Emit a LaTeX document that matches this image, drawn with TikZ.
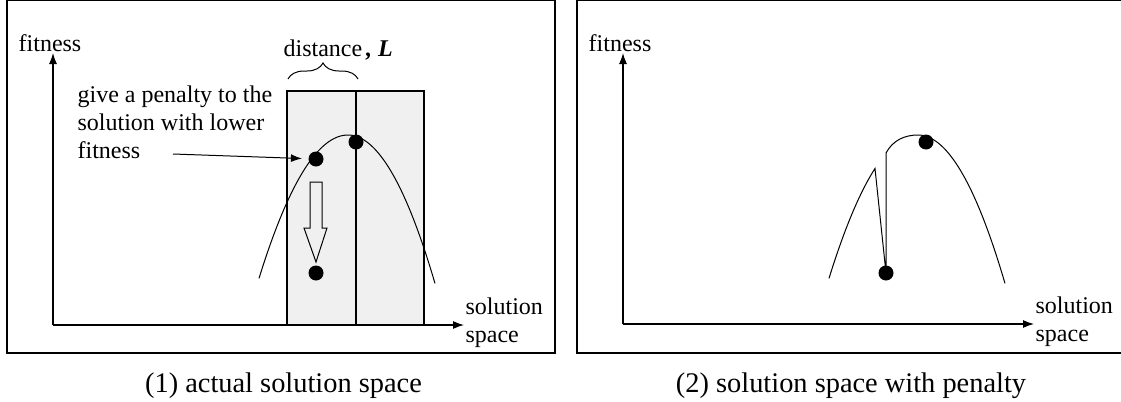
\documentclass[tikz,border=0pt]{standalone}
\usepackage{fontspec}
\setmainfont{Liberation Serif}
\usetikzlibrary{arrows.meta,decorations.pathreplacing}
\begin{document}
\begin{tikzpicture}[x=0.5pt,y=-0.5pt,>={Latex[length=5.5pt,width=4pt]},line width=0.6pt,
  label node/.style={font=\fontsize{12}{14}\selectfont,inner sep=0pt,align=left},
  caption node/.style={font=\fontsize{14.2}{17}\selectfont,inner sep=0pt},
  dot node/.style={circle,fill=black,inner sep=0pt,minimum size=7.5pt},
  thin line/.style={line width=0.5pt}]
\useasboundingbox (0,0) rectangle (1121,402);

\draw[line width=0.7pt] (7,0.5) rectangle (555,353);
\draw[line width=0.7pt] (577,0.5) rectangle (1130,353);

\filldraw[fill=gray!12] (287,91) rectangle (424,325);
\draw (356,91) -- (356,325);

\coordinate (o1) at (53,325);
\coordinate (x1) at (464,325);
\coordinate (y1) at (53,53);
\coordinate (o2) at (623,324);
\coordinate (x2) at (1034,324);
\coordinate (y2) at (623,53);
\draw[->] (o1) -- (x1);
\draw[->] (o1) -- (y1);
\draw[->] (o2) -- (x2);
\draw[->] (o2) -- (y2);

\node[label node,anchor=base] (fit1) at (50,51) {fitness};
\node[label node,anchor=base west] (sol1) at (465,342) {solution\\space};
\node[label node,anchor=base] (fit2) at (620,51) {fitness};
\node[label node,anchor=base west] (sol2) at (1035,341) {solution\\space};
\node[label node,anchor=base west] (pen) at (77,158) {give a penalty to the\\solution with lower\\fitness};
\node[label node,anchor=base west] (dist) at (283,56) {distance\,\textbf{\textit{, L}}};
\node[caption node,anchor=base] (cap1) at (283.5,392) {(1) actual solution space};
\node[caption node,anchor=base] (cap2) at (851,392) {(2) solution space with penalty};

\draw[decorate,decoration={brace,amplitude=8pt},thin line] (288,79) -- (358,79);

\draw[thin line] plot[domain=259:348,samples=40] (\x,{135+0.0181*(\x-348)^2})
  -- plot[domain=348:435,samples=40] (\x,{135+0.0196*(\x-348)^2});
\draw[thin line] plot[domain=829:875,samples=20] (\x,{135+0.0181*(\x-918)^2})
  -- (886,273) -- (886,153) .. controls (893,140) and (905,135) .. (918,135)
  -- plot[domain=918:1005,samples=40] (\x,{135+0.0196*(\x-918)^2});

\draw[thin line] (310,182) -- (322,182) -- (322,228) -- (327,228) -- (316,262) -- (304,228) -- (310,228) -- cycle;

\node[dot node] (dot1) at (316,159) {};
\node[dot node] (dot2) at (356,142) {};
\node[dot node] (dot3) at (316,273) {};
\node[dot node] (dot4) at (886,273) {};
\node[dot node] (dot5) at (926,142) {};

\coordinate (pa) at (173,154);
\draw[->,thin line,shorten >=3pt] (pa) -- (dot1);
\end{tikzpicture}
\end{document}
